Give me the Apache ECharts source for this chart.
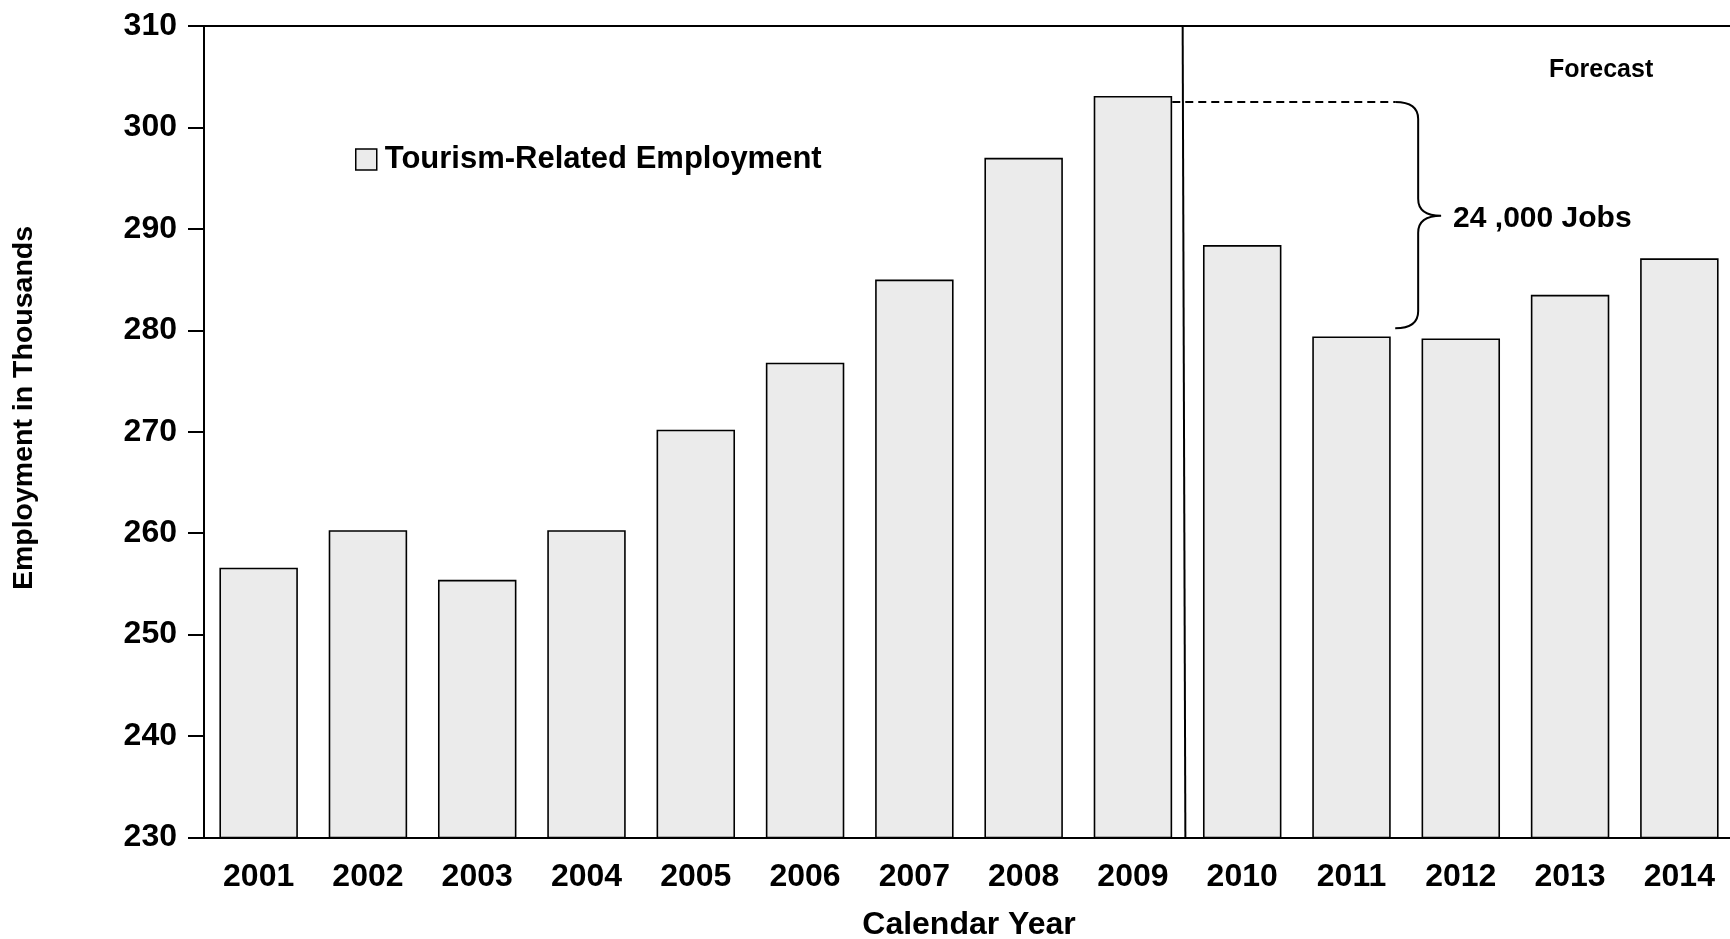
<!DOCTYPE html>
<html>
<head>
<meta charset="utf-8">
<script src="https://cdn.jsdelivr.net/npm/echarts@6/dist/echarts.min.js"></script>
<style>
html,body{margin:0;padding:0;background:#fff;}
#chart{width:1730px;height:939px;}
</style>
</head>
<body>
<div id="chart"></div>
<script>
// ---- data ----
var years = ['2001','2002','2003','2004','2005','2006','2007','2008','2009','2010','2011','2012','2013','2014'];
var employment = [256.6, 260.3, 255.4, 260.3, 270.2, 276.8, 285.0, 297.0, 303.1, 288.4, 279.4, 279.2, 283.5, 287.1];
var yTicks = [230, 240, 250, 260, 270, 280, 290, 300, 310];
var seriesName = 'Tourism-Related Employment';
// annotation values (in axis units: x = category index, y = thousands)
var forecastLine = [[8.455, 310], [8.48, 230]];
var gapLine = [[8.36, 302.5], [10.40, 302.5]];
var brace = [10.40, 302.5, 280.2, 291.3, 10.61, 10.82];
var braceLabel = '24 ,000 Jobs';
var forecastLabel = 'Forecast';

var FONT = '"Liberation Sans", Arial, sans-serif';
var chart = echarts.init(document.getElementById('chart'));

chart.setOption({
  animation: false,
  backgroundColor: '#fff',
  grid: { left: 204, top: 26, width: 1530, height: 811.5, containLabel: false, outerBoundsMode: 'none' },
  legend: {
    data: [seriesName],
    left: 350, top: 139,
    icon: 'rect',
    itemWidth: 21, itemHeight: 21,
    itemStyle: { color: '#ebebeb', borderColor: '#000', borderWidth: 1.5 },
    textStyle: { fontFamily: FONT, fontWeight: 'bold', fontSize: 31, color: '#000', padding: [0,0,0,3] }
  },
  xAxis: [{
    type: 'category',
    data: years,
    position: 'bottom',
    axisLine: { show: true, onZero: false, lineStyle: { color: '#000', width: 2 } },
    axisTick: { show: false },
    axisLabel: { fontFamily: FONT, fontWeight: 'bold', fontSize: 32, color: '#000', margin: 24, interval: 0 },
    name: 'Calendar Year',
    nameLocation: 'middle',
    nameGap: 72,
    nameTextStyle: { fontFamily: FONT, fontWeight: 'bold', fontSize: 32, color: '#000' }
  }, {
    type: 'value',
    min: -0.5, max: 13.5,
    position: 'top',
    axisLine: { show: true, onZero: false, lineStyle: { color: '#000', width: 2 } },
    axisTick: { show: false },
    axisLabel: { show: false },
    splitLine: { show: false }
  }],
  yAxis: {
    type: 'value',
    min: yTicks[0], max: yTicks[yTicks.length - 1], interval: 10,
    axisLine: { show: true, onZero: false, lineStyle: { color: '#000', width: 2 } },
    axisTick: { show: true, length: 16, lineStyle: { color: '#000', width: 2 } },
    axisLabel: { fontFamily: FONT, fontWeight: 'bold', fontSize: 32, color: '#000', margin: 27 },
    splitLine: { show: false }
  },
  graphic: [{
    type: 'text',
    left: 1549, top: 58,
    style: { text: forecastLabel, font: 'bold 25px ' + FONT, fill: '#000' }
  }, {
    type: 'text',
    x: 24, y: 408,
    rotation: Math.PI / 2,
    style: { text: 'Employment in Thousands', font: 'bold 28.5px ' + FONT, fill: '#000', align: 'center', verticalAlign: 'middle' }
  }],
  series: [{
    name: seriesName,
    type: 'bar',
    data: employment,
    barWidth: '71.8%',
    itemStyle: { color: '#ebebeb', borderColor: '#000', borderWidth: 1.6 },
    emphasis: { disabled: true }
  }, {
    name: 'annotations',
    type: 'custom',
    xAxisIndex: 1, yAxisIndex: 0,
    silent: true,
    data: [brace],
    renderItem: function (params, api) {
      var top = api.coord([api.value(0), api.value(1)]);
      var bot = api.coord([api.value(0), api.value(2)]);
      var mid = api.coord([api.value(5), api.value(3)]);
      var x0 = top[0];
      var x1 = api.coord([api.value(4), api.value(1)])[0];
      var x2 = mid[0];
      var yt = top[1], yb = bot[1], ym = mid[1];
      var r = 17;
      var d = 'M' + x0 + ' ' + yt +
        ' Q' + x1 + ' ' + yt + ' ' + x1 + ' ' + (yt + r) +
        ' L' + x1 + ' ' + (ym - r) +
        ' Q' + x1 + ' ' + ym + ' ' + x2 + ' ' + ym +
        ' Q' + x1 + ' ' + ym + ' ' + x1 + ' ' + (ym + r) +
        ' L' + x1 + ' ' + (yb - r) +
        ' Q' + x1 + ' ' + yb + ' ' + x0 + ' ' + yb;
      return {
        type: 'group',
        children: [{
          type: 'path',
          shape: { pathData: d },
          style: { stroke: '#000', fill: null, lineWidth: 2 }
        }, {
          type: 'text',
          x: x2 + 12, y: ym + 3,
          style: { text: braceLabel, font: 'bold 30px ' + FONT, fill: '#000', verticalAlign: 'middle' }
        }]
      };
    },
    markLine: {
      silent: true,
      symbol: ['none', 'none'],
      label: { show: false },
      animation: false,
      data: [
        [{ coord: forecastLine[0], lineStyle: { type: 'solid', color: '#000', width: 2 } }, { coord: forecastLine[1] }],
        [{ coord: gapLine[0], lineStyle: { type: [8, 5], color: '#000', width: 1.8 } }, { coord: gapLine[1] }]
      ]
    }
  }]
});
</script>
</body>
</html>
